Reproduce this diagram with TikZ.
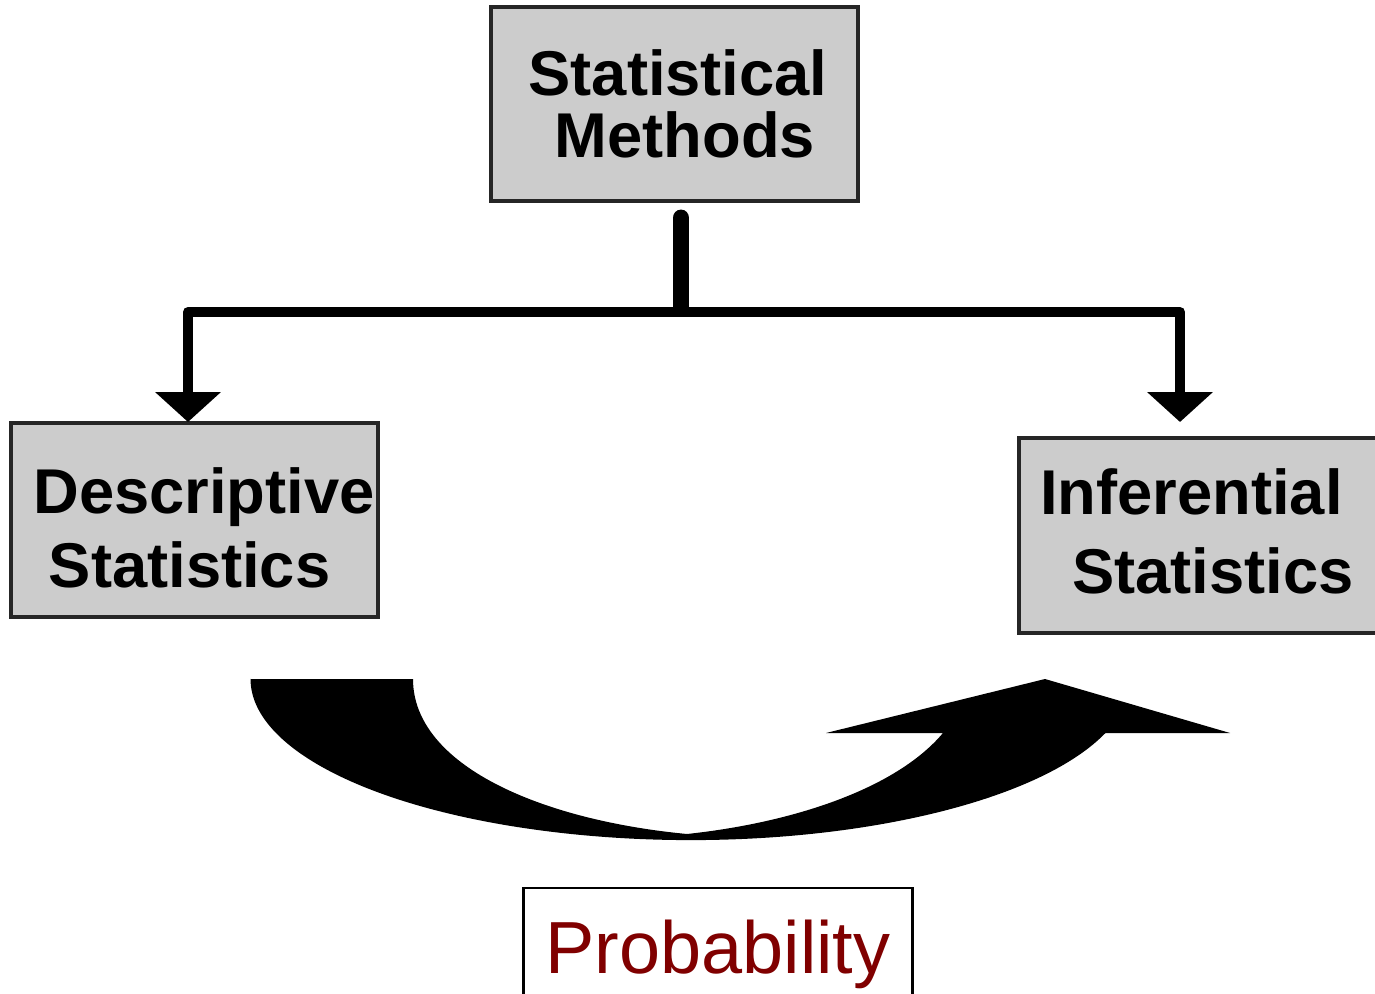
\documentclass[tikz,border=0pt]{standalone}
\usepackage{fontspec}
\setmainfont{Liberation Sans}
\usetikzlibrary{arrows.meta}
\definecolor{boxgray}{HTML}{CCCCCC}
\definecolor{boxline}{HTML}{262626}
\definecolor{probred}{HTML}{800000}

\begin{document}
\begin{tikzpicture}[x=0.01cm, y=-0.01cm,
    statbox/.style={rectangle, draw=boxline, line width=1.3pt, fill=boxgray, minimum width=3.67cm, minimum height=1.94cm, inner sep=0pt, align=center, font=\fontsize{18}{21}\selectfont\bfseries},
    probbox/.style={rectangle, draw=black, line width=0.8pt, fill=white, minimum width=3.88cm, minimum height=1.32cm, inner sep=0pt, text=probred, font=\fontsize{21}{25}\selectfont}]

    \useasboundingbox (0,0) rectangle (1375,994);

    % boxes
    \node (methods) [statbox] at (674.5,104) {\hspace*{2pt}Statistical\\[-3.4pt]\hspace*{6pt}Methods};
    \node (descriptive) [statbox] at (194.5,520) {\rule{0pt}{17.6pt}\hspace*{5.4pt}Descriptive\\Statistics\hspace*{2.8pt}};
    \node (inferential) [statbox, minimum height=1.95cm] at (1202.5,535.5) {Inferential\hspace*{6.3pt}\\[1.5pt]\hspace*{6pt}Statistics\rule[-2.3pt]{0pt}{2.3pt}};
    \node (probability) [probbox] at (718,954) {Probability};

    % tree connectors
    \coordinate (stem) at (681,218);
    \coordinate (fork) at (681,312);
    \coordinate (desctip) at (188,422);
    \coordinate (inftip) at (1180,422);
    \draw[line width=4.8pt, line cap=round, shorten >=1pt] (stem) -- (fork);
    \draw[line width=2.85pt, line join=round, line cap=round, {Triangle[width=18.2pt,length=8.5pt]}-{Triangle[width=18.2pt,length=8.5pt]}] (desctip) |- (fork) -| (inftip);

    % curved arrow
    \fill[black] (251,679) -- (413,679)
        .. controls (413,765) and (540,820) .. (687,834)
        .. controls (790,823) and (895,790) .. (943,733)
        -- (826,733) -- (1045,679) -- (1230,733) -- (1105.5,733)
        arc[start angle=-19.6, end angle=-180, x radius=4.4cm, y radius=1.61cm] -- cycle;

\end{tikzpicture}
\end{document}
